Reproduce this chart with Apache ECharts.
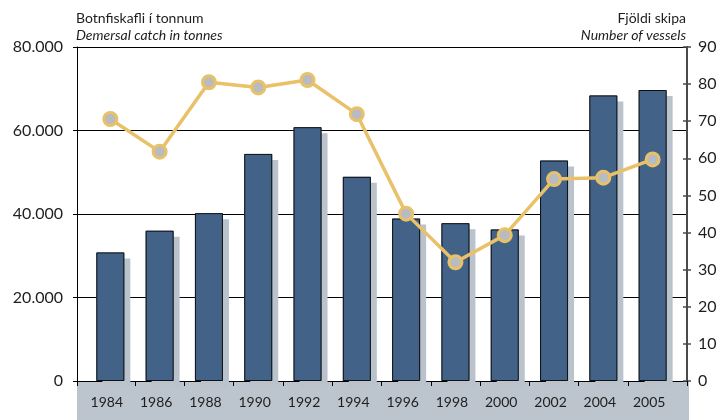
<!DOCTYPE html>
<html>
<head>
<meta charset="utf-8">
<script src="https://cdn.jsdelivr.net/npm/echarts@6/dist/echarts.min.js"></script>
<style>
  html, body { margin: 0; padding: 0; background: #fff; }
  #chart { width: 728px; height: 420px; }
</style>
</head>
<body>
<div id="chart"></div>
<script>
// data
var years = ['1984', '1986', '1988', '1990', '1992', '1994', '1996', '1998', '2000', '2002', '2004', '2005'];
var catchTonnes = [30800, 36000, 40200, 54400, 60800, 48900, 38900, 37800, 36300, 52800, 68400, 69700];
var vessels = [70.6, 61.8, 80.5, 79.1, 81.1, 71.9, 45.1, 32.0, 39.3, 54.4, 54.8, 59.7];
var leftTicks = [0, 20000, 40000, 60000, 80000];
var rightTicks = [0, 10, 20, 30, 40, 50, 60, 70, 80, 90];

var font = 'Lato';
var ink = '#1e1e1e';

// category boundaries for the ticks under the axis
var boundaries = [-0.676];
for (var i = 0; i < years.length - 1; i++) boundaries.push(i + 0.5);
boundaries.push(11.697);

var barData = catchTonnes.map(function (v, i) { return [i, v]; });

var chart = echarts.init(document.getElementById('chart'));

chart.setOption({
    animation: false,
    grid: { left: 77, right: 41, top: 47, bottom: 39 },
    graphic: [
        { type: 'rect', z: -10, silent: true,
          shape: { x: 77, y: 381, width: 612, height: 39 },
          style: { fill: '#bcc4ce' } },
        { type: 'text', left: 76, top: 11,
          style: { text: 'Botnfiskafli í tonnum', font: '14px ' + font, fill: ink } },
        { type: 'text', left: 76, top: 28,
          style: { text: 'Demersal catch in tonnes', font: 'italic 14px ' + font, fill: ink } },
        { type: 'text', right: 42, top: 11,
          style: { text: 'Fjöldi skipa', font: '14px ' + font, fill: ink, align: 'right' } },
        { type: 'text', right: 42, top: 28,
          style: { text: 'Number of vessels', font: 'italic 14px ' + font, fill: ink, align: 'right' } }
    ],
    xAxis: {
        type: 'value',
        min: -0.676,
        max: 11.697,
        axisLine: { show: true, onZero: false, lineStyle: { color: '#000', width: 1 } },
        axisTick: { show: true, length: 5, customValues: boundaries, lineStyle: { color: '#000' } },
        axisLabel: {
            customValues: years.map(function (y, i) { return i; }),
            formatter: function (v) { return years[Math.round(v)]; },
            fontFamily: font, fontSize: 14, color: ink, margin: 14,
            padding: [0, 7, 0, 0]
        },
        splitLine: { show: false }
    },
    yAxis: [
        {
            type: 'value', position: 'left',
            min: leftTicks[0], max: leftTicks[leftTicks.length - 1], interval: 20000,
            axisLine: { show: true, onZero: false, lineStyle: { color: '#000', width: 1 } },
            axisTick: { show: true, length: 4, lineStyle: { color: '#000' } },
            axisLabel: {
                fontFamily: font, fontSize: 16, color: ink, margin: 14,
                formatter: function (v) { return String(v).replace(/\B(?=(\d{3})+(?!\d))/g, '.'); }
            },
            splitLine: { show: true, lineStyle: { color: '#000', width: 1 } }
        },
        {
            type: 'value', position: 'right',
            min: rightTicks[0], max: rightTicks[rightTicks.length - 1], interval: 10,
            axisLine: { show: true, onZero: false, lineStyle: { color: '#4a4a4a', width: 2 } },
            axisTick: { show: true, length: 4, lineStyle: { color: '#4a4a4a', width: 1.5 } },
            axisLabel: { fontFamily: font, fontSize: 16, color: ink, margin: 11 },
            splitLine: { show: false }
        },
        {
            type: 'value', position: 'right',
            min: rightTicks[0], max: rightTicks[rightTicks.length - 1], interval: 10,
            axisLine: { show: false, onZero: false },
            axisTick: { show: true, inside: true, length: 4, lineStyle: { color: '#4a4a4a', width: 1.5 } },
            axisLabel: { show: false },
            splitLine: { show: false }
        }
    ],
    series: [
        {
            // filled bars casting the grey offset shadow
            type: 'bar',
            yAxisIndex: 0,
            barWidth: 28,
            data: barData,
            itemStyle: {
                color: '#436288',
                shadowColor: '#bac2cc',
                shadowOffsetX: 6,
                shadowOffsetY: 6,
                shadowBlur: 0
            },
            emphasis: { disabled: true }
        },
        {
            // black outline on top, same bars
            type: 'bar',
            yAxisIndex: 0,
            barWidth: 28,
            barGap: '-100%',
            data: barData,
            itemStyle: { color: 'rgba(0,0,0,0)', borderColor: '#111', borderWidth: 1 },
            emphasis: { disabled: true }
        },
        {
            type: 'line',
            yAxisIndex: 1,
            z: 5,
            data: vessels.map(function (v, i) { return [i, v]; }),
            lineStyle: { color: '#e8c168', width: 3.5 },
            symbol: 'circle',
            symbolSize: 13,
            itemStyle: { color: '#b8bcc1', borderColor: '#e8c168', borderWidth: 3 },
            emphasis: { disabled: true }
        }
    ]
});
</script>
</body>
</html>
